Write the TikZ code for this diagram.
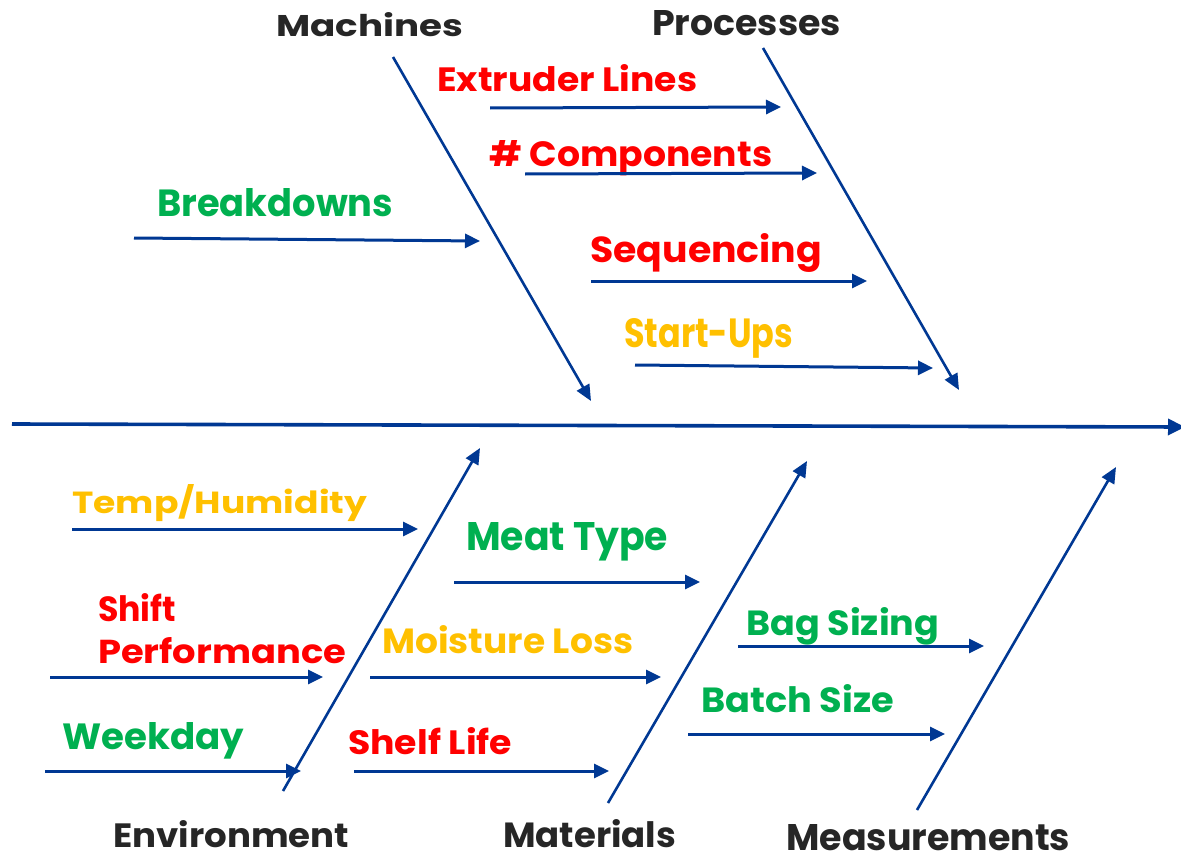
\documentclass[tikz,border=0pt]{standalone}
\usepackage{fontspec}
\usepackage{graphicx}
\setmainfont{Poppins}
\usetikzlibrary{arrows.meta}

\definecolor{bone}{RGB}{0,56,147}
\definecolor{cred}{RGB}{255,0,0}
\definecolor{cgreen}{RGB}{0,176,80}
\definecolor{corange}{RGB}{255,192,0}
\definecolor{ctitle}{RGB}{38,38,38}

% fit a text to a given width and height (in pt) keeping its baseline
\newcommand\fitbox[3]{\resizebox{#1pt}{#2pt}{#3}}

\tikzset{
  lbl/.style={inner sep=0pt, anchor=base west, font=\bfseries\fontsize{30}{32}\selectfont},
  title/.style={lbl, text=ctitle},
  redlbl/.style={lbl, text=cred},
  greenlbl/.style={lbl, text=cgreen},
  orangelbl/.style={lbl, text=corange},
  spine/.style={draw=bone, line width=3.6pt, -{Triangle[length=17pt,width=16pt]}},
  mainbone/.style={draw=bone, line width=2.6pt, -{Triangle[length=16pt,width=14pt]}},
  cause/.style={draw=bone, line width=3pt, -{Triangle[length=15pt,width=14pt]}},
}

\begin{document}
\begin{tikzpicture}[x=1pt,y=-1pt]
\useasboundingbox (0,0) rectangle (1181,859);

% ---- spine ----
\coordinate (spS) at (12,424);
\coordinate (spE) at (1185,427);
\draw[spine] (spS) -- (spE);

% ---- main bones ----
\coordinate (mA) at (393,57);   \coordinate (mB) at (591,401);
\coordinate (pA) at (763,48);   \coordinate (pB) at (959,390);
\coordinate (eA) at (283,791);  \coordinate (eB) at (480,448);
\coordinate (tA) at (608,803);  \coordinate (tB) at (807,461);
\coordinate (sA) at (917,810);  \coordinate (sB) at (1116,467);
\draw[mainbone] (mA) -- (mB);
\draw[mainbone] (pA) -- (pB);
\draw[mainbone] (eA) -- (eB);
\draw[mainbone] (tA) -- (tB);
\draw[mainbone] (sA) -- (sB);

% ---- category titles ----
\node[title] (tMach) at (276,37)  {\fitbox{187}{24}{Machines}};
\node[title] (tProc) at (652,36)  {\fitbox{189}{25}{Processes}};
\node[title] (tEnv)  at (113,847) {\fitbox{236}{27}{Environment}};
\node[title] (tMat)  at (503,847) {\fitbox{173}{28}{Materials}};
\node[title] (tMeas) at (786,850) {\fitbox{284}{26}{Measurements}};

% ---- causes, upper half ----
\node[redlbl]    (lExt)  at (437,92)  {\fitbox{260}{27}{Extruder Lines}};
\coordinate (aExt1) at (490,108); \coordinate (aExt2) at (781,107);
\draw[cause] (aExt1) -- (aExt2);

\node[redlbl]    (lComp) at (489,166) {\fitbox{283}{26}{\# Components}};
\coordinate (aCmp1) at (525,174); \coordinate (aCmp2) at (817,173);
\draw[cause] (aCmp1) -- (aCmp2);

\node[greenlbl]  (lBrk)  at (157,216) {\fitbox{236}{28}{Breakdowns}};
\coordinate (aBrk1) at (134,238); \coordinate (aBrk2) at (480,241);
\draw[cause] (aBrk1) -- (aBrk2);

\node[redlbl]    (lSeq)  at (590,262) {\fitbox{232}{29}{Sequencing}};
\coordinate (aSeq1) at (591,281); \coordinate (aSeq2) at (867,281);
\draw[cause] (aSeq1) -- (aSeq2);

\node[orangelbl] (lStu)  at (624,347) {\fitbox{169}{29}{Start-Ups}};
\coordinate (aStu1) at (635,365); \coordinate (aStu2) at (933,368);
\draw[cause] (aStu1) -- (aStu2);

% ---- causes, lower half ----
\node[orangelbl] (lTmp)  at (72,513)  {\fitbox{295}{29}{Temp/Humidity}};
\coordinate (aTmp1) at (72,529); \coordinate (aTmp2) at (418,529);
\draw[cause] (aTmp1) -- (aTmp2);

\node[greenlbl]  (lMeat) at (466,550) {\fitbox{202}{28}{Meat Type}};
\coordinate (aMt1) at (454,582); \coordinate (aMt2) at (700,582);
\draw[cause] (aMt1) -- (aMt2);

\node[redlbl]    (lShf)  at (98,621)  {\fitbox{78}{28}{Shift}};
\node[redlbl]    (lPerf) at (98,663)  {\fitbox{248}{26}{Performance}};
\coordinate (aShf1) at (50,677); \coordinate (aShf2) at (323,677);
\draw[cause] (aShf1) -- (aShf2);

\node[orangelbl] (lMst)  at (382,653) {\fitbox{251}{28}{Moisture Loss}};
\coordinate (aMst1) at (370,677); \coordinate (aMst2) at (661,677);
\draw[cause] (aMst1) -- (aMst2);

\node[greenlbl]  (lBag)  at (746,635) {\fitbox{193}{28}{Bag Sizing}};
\coordinate (aBag1) at (738,646); \coordinate (aBag2) at (984,646);
\draw[cause] (aBag1) -- (aBag2);

\node[greenlbl]  (lBat)  at (701,712) {\fitbox{193}{28}{Batch Size}};
\coordinate (aBat1) at (688,734); \coordinate (aBat2) at (945,734);
\draw[cause] (aBat1) -- (aBat2);

\node[greenlbl]  (lWkd)  at (62,749)  {\fitbox{182}{27}{Weekday}};
\coordinate (aWkd1) at (45,771); \coordinate (aWkd2) at (301,771);
\draw[cause] (aWkd1) -- (aWkd2);

\node[redlbl]    (lShl)  at (348,754) {\fitbox{164}{27}{Shelf Life}};
\coordinate (aShl1) at (354,771); \coordinate (aShl2) at (609,771);
\draw[cause] (aShl1) -- (aShl2);
\end{tikzpicture}
\end{document}
